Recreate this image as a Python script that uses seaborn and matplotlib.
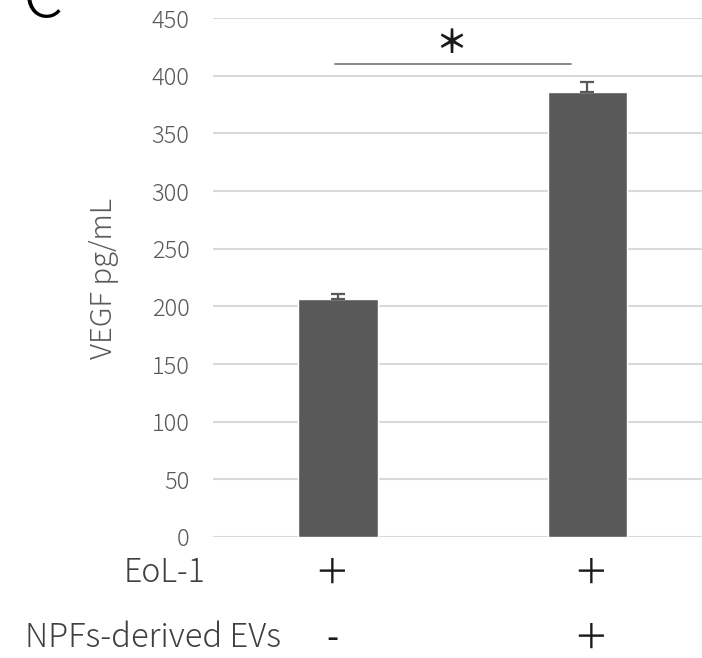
import matplotlib
matplotlib.use("Agg")
import matplotlib.pyplot as plt
import seaborn as sns
import pandas as pd

groups = ["EoL-1 only", "EoL-1 + NPFs-derived EVs"]
vegf = [206, 386]
err = [5, 8.5]
eol_row = ["+", "+"]
ev_row = ["-", "+"]
yticks = [0, 50, 100, 150, 200, 250, 300, 350, 400, 450]

sns.set_theme(style="white")
plt.rcParams['font.family'] = ['Noto Sans CJK JP', 'DejaVu Sans']

W, H = 702, 658
fig = plt.figure(figsize=(W / 100, H / 100), dpi=100)
ax = fig.add_axes([213 / W, (H - 537) / H, (W - 213) / W, (537 - 18) / H])

df = pd.DataFrame({"group": groups, "vegf": vegf})
sns.barplot(data=df, x="group", y="vegf", color="#595959", saturation=1,
            width=0.317, ax=ax, errorbar=None, zorder=3)
ax.errorbar([0, 1], vegf, yerr=[[0, 0], err], fmt="none", ecolor="#595959",
            elinewidth=1.6, capsize=4.7, capthick=1.6, zorder=4)

ax.set_ylim(0, 450)
ax.set_xlim(-0.501, 1.459)
ax.set_yticks(yticks)
ax.set_yticklabels([str(t) for t in yticks], color="#595959", fontsize=17,
                   fontweight="light")
ax.tick_params(axis="y", length=0, pad=17)
ax.set_xticks([])
ax.set_xlabel("")
ax.set_ylabel("VEGF pg/mL", color="#595959", fontsize=21, fontweight="light",
              labelpad=12)
ax.yaxis.set_label_coords((119 - 213) / (W - 213), 0.5 - (278 - 277.5) / 519)
ax.yaxis.grid(True, color="#d9d9d9", linewidth=1.5, zorder=0)
ax.set_axisbelow(True)
for s in ax.spines.values():
    s.set_visible(False)

# significance
ax.plot([-0.012, 0.934], [410.5, 410.5], color="#7f7f7f", linewidth=1.3,
        clip_on=False, zorder=5)
ax.text(0.456, 427.5, "＊", ha="center", va="center", fontsize=23,
        color="#1a1a1a", fontweight="bold")

# condition rows
trans = ax.get_xaxis_transform()
row1_y = -(574 - 537) / 519
row2_y = -(639 - 537) / 519
row_x = [-0.024, 1.014]
for xs, s in zip(row_x, eol_row):
    ax.text(xs, row1_y, "＋" if s == "+" else "-", transform=trans,
            ha="center", va="center", fontsize=25, color="#1a1a1a",
            fontweight="normal")
for xs, s in zip(row_x, ev_row):
    ax.text(xs, row2_y, "＋" if s == "+" else "-", transform=trans,
            ha="center", va="center", fontsize=25,
            color="#1a1a1a", fontweight="normal")
fig.text(205 / W, 1 - 573 / H, "EoL-1", ha="right", va="center",
         fontsize=23, color="#404040", fontweight="light")
fig.text(25 / W, 1 - 638 / H, "NPFs-derived EVs", ha="left", va="center",
         fontsize=23.5, color="#404040", fontweight="light")

# panel letter
fig.text(22 / W, 1 - 17 / H, "C", ha="left", va="baseline", fontsize=46,
         color="black", fontweight="light")

fig.savefig("out.png", dpi=100)
